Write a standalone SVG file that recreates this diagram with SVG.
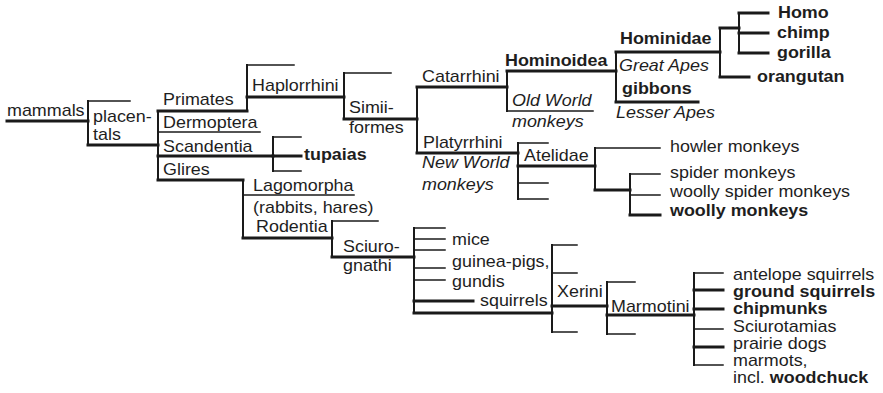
<svg xmlns="http://www.w3.org/2000/svg" width="883" height="393" viewBox="0 0 883 393">
<style>
text{font-family:"Liberation Sans",Arial,sans-serif;font-size:16px;fill:#1e1e1e}
.b{font-weight:bold}
.i{font-style:italic}
line{stroke:#1a1a1a;stroke-linecap:square}
.t{stroke-width:1.5}
.k{stroke-width:3}
.v{stroke-width:2}
</style>
<rect width="883" height="393" fill="#fff"/>
<g id="connectors">
<line class="k" x1="7" y1="121" x2="88" y2="121"/>
<line class="v" x1="88" y1="101" x2="88" y2="145"/>
<line class="t" x1="88" y1="101" x2="130" y2="101"/>
<line class="k" x1="88" y1="145" x2="158" y2="145"/>
<line class="v" x1="158" y1="111" x2="158" y2="180"/>
<line class="k" x1="158" y1="111" x2="247" y2="111"/>
<line class="t" x1="158" y1="132" x2="260" y2="132"/>
<line class="k" x1="158" y1="156" x2="273" y2="156"/>
<line class="k" x1="158" y1="180" x2="243" y2="180"/>
<line class="v" x1="247" y1="65" x2="247" y2="111"/>
<line class="t" x1="247" y1="65" x2="294" y2="65"/>
<line class="k" x1="247" y1="97" x2="344" y2="97"/>
<line class="v" x1="344" y1="73" x2="344" y2="119"/>
<line class="t" x1="344" y1="73" x2="391" y2="73"/>
<line class="k" x1="344" y1="119" x2="417" y2="119"/>
<line class="v" x1="417" y1="87" x2="417" y2="153"/>
<line class="k" x1="417" y1="87" x2="507" y2="87"/>
<line class="k" x1="417" y1="153" x2="518" y2="153"/>
<line class="v" x1="507" y1="71" x2="507" y2="111"/>
<line class="k" x1="507" y1="71" x2="616" y2="71"/>
<line class="t" x1="507" y1="111" x2="593" y2="111"/>
<line class="v" x1="616" y1="52" x2="616" y2="102"/>
<line class="k" x1="616" y1="52" x2="720" y2="52"/>
<line class="k" x1="616" y1="102" x2="698" y2="102"/>
<line class="v" x1="720" y1="28" x2="720" y2="77"/>
<line class="k" x1="720" y1="77" x2="749" y2="77"/>
<line class="k" x1="720" y1="28" x2="739" y2="28"/>
<line class="v" x1="739" y1="13" x2="739" y2="53"/>
<line class="k" x1="739" y1="13" x2="768" y2="13"/>
<line class="k" x1="739" y1="33" x2="768" y2="33"/>
<line class="k" x1="739" y1="53" x2="768" y2="53"/>
<line class="v" x1="273" y1="137" x2="273" y2="171"/>
<line class="t" x1="273" y1="137" x2="301" y2="137"/>
<line class="k" x1="273" y1="156" x2="301" y2="156"/>
<line class="t" x1="273" y1="171" x2="301" y2="171"/>
<line class="v" x1="243" y1="180" x2="243" y2="238"/>
<line class="t" x1="243" y1="195" x2="354" y2="195"/>
<line class="k" x1="243" y1="238" x2="332" y2="238"/>
<line class="v" x1="332" y1="221" x2="332" y2="257"/>
<line class="t" x1="332" y1="221" x2="378" y2="221"/>
<line class="k" x1="332" y1="257" x2="414" y2="257"/>
<line class="v" x1="414" y1="228" x2="414" y2="313"/>
<line class="t" x1="414" y1="228" x2="445" y2="228"/>
<line class="t" x1="414" y1="239" x2="445" y2="239"/>
<line class="t" x1="414" y1="250" x2="445" y2="250"/>
<line class="t" x1="414" y1="268" x2="445" y2="268"/>
<line class="t" x1="414" y1="280" x2="445" y2="280"/>
<line class="k" x1="414" y1="301" x2="473" y2="301"/>
<line class="k" x1="414" y1="313" x2="552" y2="313"/>
<line class="v" x1="552" y1="245" x2="552" y2="332"/>
<line class="t" x1="552" y1="245" x2="577" y2="245"/>
<line class="t" x1="552" y1="273" x2="577" y2="273"/>
<line class="t" x1="552" y1="332" x2="577" y2="332"/>
<line class="k" x1="552" y1="306" x2="607" y2="306"/>
<line class="v" x1="607" y1="282" x2="607" y2="334"/>
<line class="t" x1="607" y1="282" x2="635" y2="282"/>
<line class="t" x1="607" y1="334" x2="635" y2="334"/>
<line class="k" x1="607" y1="315" x2="694" y2="315"/>
<line class="v" x1="694" y1="273" x2="694" y2="365"/>
<line class="t" x1="694" y1="273" x2="723" y2="273"/>
<line class="k" x1="694" y1="290" x2="723" y2="290"/>
<line class="k" x1="694" y1="309" x2="723" y2="309"/>
<line class="t" x1="694" y1="329" x2="723" y2="329"/>
<line class="k" x1="694" y1="347" x2="723" y2="347"/>
<line class="t" x1="694" y1="365" x2="723" y2="365"/>
<line class="v" x1="518" y1="143" x2="518" y2="199"/>
<line class="t" x1="518" y1="143" x2="548" y2="143"/>
<line class="t" x1="518" y1="183" x2="548" y2="183"/>
<line class="t" x1="518" y1="199" x2="548" y2="199"/>
<line class="k" x1="518" y1="166" x2="595" y2="166"/>
<line class="v" x1="595" y1="148" x2="595" y2="190"/>
<line class="t" x1="595" y1="148" x2="660" y2="148"/>
<line class="k" x1="595" y1="190" x2="630" y2="190"/>
<line class="v" x1="630" y1="174" x2="630" y2="215"/>
<line class="t" x1="630" y1="174" x2="660" y2="174"/>
<line class="t" x1="630" y1="195" x2="660" y2="195"/>
<line class="k" x1="630" y1="215" x2="660" y2="215"/>
</g>
<g id="mammals"><text transform="translate(7 116) scale(1.12 1)">mammals</text></g>
<g id="placentals"><text transform="translate(93 122) scale(1.12 1)">placen-</text><text transform="translate(93 140) scale(1.12 1)">tals</text></g>
<g id="primates"><text transform="translate(163 105) scale(1.12 1)">Primates</text></g>
<g id="dermoptera"><text transform="translate(163 128) scale(1.12 1)">Dermoptera</text></g>
<g id="scandentia"><text transform="translate(163 152) scale(1.12 1)">Scandentia</text></g>
<g id="glires"><text transform="translate(163 175) scale(1.12 1)">Glires</text></g>
<g id="haplorrhini"><text transform="translate(252 91) scale(1.12 1)">Haplorrhini</text></g>
<g id="simiiformes"><text transform="translate(349 113) scale(1.12 1)">Simii-</text><text transform="translate(349 133) scale(1.12 1)">formes</text></g>
<g id="tupaias"><text class="b" transform="translate(304 160) scale(1.12 1)">tupaias</text></g>
<g id="catarrhini"><text transform="translate(422 82) scale(1.12 1)">Catarrhini</text></g>
<g id="hominoidea"><text class="b" transform="translate(505 66) scale(1.12 1)">Hominoidea</text></g>
<g id="oldworld"><text class="i" transform="translate(512 106) scale(1.12 1)">Old World</text><text class="i" transform="translate(512 127) scale(1.12 1)">monkeys</text></g>
<g id="hominidae"><text class="b" transform="translate(620 44) scale(1.12 1)">Hominidae</text><text class="i" transform="translate(619 71) scale(1.12 1)">Great Apes</text></g>
<g id="gibbons"><text class="b" transform="translate(622 94) scale(1.12 1)">gibbons</text><text class="i" transform="translate(616 118) scale(1.12 1)">Lesser Apes</text></g>
<g id="homo"><text class="b" transform="translate(778 18) scale(1.12 1)">Homo</text></g>
<g id="chimp"><text class="b" transform="translate(777 38) scale(1.12 1)">chimp</text></g>
<g id="gorilla"><text class="b" transform="translate(777 58) scale(1.12 1)">gorilla</text></g>
<g id="orangutan"><text class="b" transform="translate(757 82) scale(1.12 1)">orangutan</text></g>
<g id="platyrrhini"><text transform="translate(423 148) scale(1.12 1)">Platyrrhini</text><text class="i" transform="translate(422 168) scale(1.12 1)">New World</text><text class="i" transform="translate(422 190) scale(1.12 1)">monkeys</text></g>
<g id="atelidae"><text transform="translate(524 161) scale(1.12 1)">Atelidae</text></g>
<g id="howler"><text transform="translate(670 152) scale(1.12 1)">howler monkeys</text></g>
<g id="spider"><text transform="translate(670 178) scale(1.12 1)">spider monkeys</text></g>
<g id="woollyspider"><text transform="translate(670 197) scale(1.12 1)">woolly spider monkeys</text></g>
<g id="woolly"><text class="b" transform="translate(670 216) scale(1.12 1)">woolly monkeys</text></g>
<g id="lagomorpha"><text transform="translate(253 191) scale(1.12 1)">Lagomorpha</text><text transform="translate(253 213) scale(1.12 1)">(rabbits, hares)</text></g>
<g id="rodentia"><text transform="translate(256 232) scale(1.12 1)">Rodentia</text></g>
<g id="sciurognathi"><text transform="translate(343 252) scale(1.12 1)">Sciuro-</text><text transform="translate(343 271) scale(1.12 1)">gnathi</text></g>
<g id="mice"><text transform="translate(452 245) scale(1.12 1)">mice</text></g>
<g id="guineapigs"><text transform="translate(452 267) scale(1.12 1)">guinea-pigs,</text></g>
<g id="gundis"><text transform="translate(452 287) scale(1.12 1)">gundis</text></g>
<g id="squirrels"><text transform="translate(480 306) scale(1.12 1)">squirrels</text></g>
<g id="xerini"><text transform="translate(557 297) scale(1.12 1)">Xerini</text></g>
<g id="marmotini"><text transform="translate(611 312) scale(1.12 1)">Marmotini</text></g>
<g id="antelope"><text transform="translate(733 280) scale(1.12 1)">antelope squirrels</text></g>
<g id="ground"><text class="b" transform="translate(733 297) scale(1.12 1)">ground squirrels</text></g>
<g id="chipmunks"><text class="b" transform="translate(733 314) scale(1.12 1)">chipmunks</text></g>
<g id="sciurotamias"><text transform="translate(733 332) scale(1.12 1)">Sciurotamias</text></g>
<g id="prairiedogs"><text transform="translate(733 349) scale(1.12 1)">prairie dogs</text></g>
<g id="marmots"><text transform="translate(733 366) scale(1.12 1)">marmots,</text><text transform="translate(733 383) scale(1.12 1)">incl. <tspan class="b">woodchuck</tspan></text></g>
</svg>
